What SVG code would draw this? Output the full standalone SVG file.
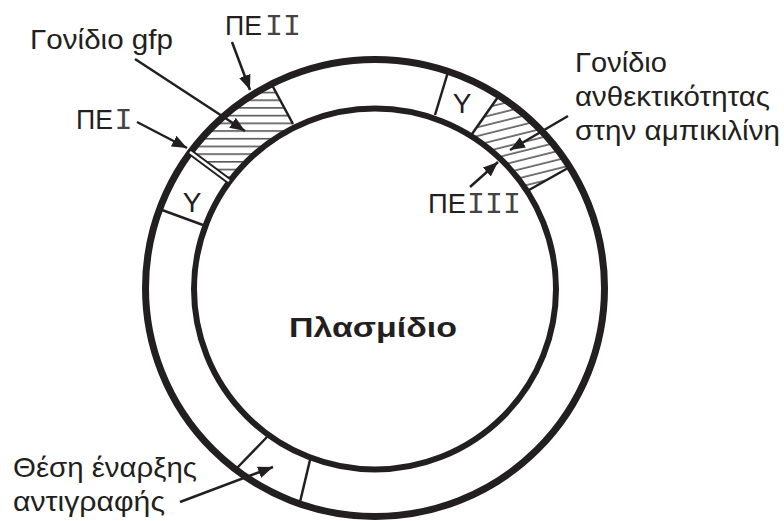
<svg xmlns="http://www.w3.org/2000/svg" width="784" height="521" viewBox="0 0 784 521">
<style>
.t{font-family:"Liberation Sans",Arial,sans-serif;font-size:28px;fill:#231f20}
.m{font-family:"Liberation Mono","Courier New",monospace;font-size:30px;fill:#444}
.b{font-family:"Liberation Sans",Arial,sans-serif;font-size:27px;font-weight:bold;fill:#231f20}
.ring{fill:none;stroke:#231f20}
.div{stroke:#231f20;stroke-width:2.5;fill:none}
.arr{stroke:#231f20;stroke-width:2.5;fill:none;marker-end:url(#ah)}
</style>
<defs>
<marker id="ah" markerUnits="userSpaceOnUse" markerWidth="16" markerHeight="12" refX="15" refY="6" orient="auto">
<path d="M0,0 L15,6 L0,12 Z" fill="#231f20"/>
</marker>
<pattern id="hg" patternUnits="userSpaceOnUse" width="20" height="7.7" y="91.7">
<line x1="0" y1="0.8" x2="20" y2="0.8" stroke="#555" stroke-width="1.6"/>
</pattern>
<pattern id="ha" patternUnits="userSpaceOnUse" width="20" height="8.5" patternTransform="rotate(-14)">
<line x1="0" y1="1" x2="20" y2="1" stroke="#231f20" stroke-width="1.2"/>
</pattern>
</defs>
<rect width="784" height="521" fill="#fff"/>
<g id="hatch-gfp">
<path d="M190.9,152.8 A229,229 0 0,1 272.8,84.1 L294.7,127.9 A180,180 0 0,0 230.3,181.9 Z" fill="url(#hg)"/>
</g>
<g id="hatch-amp">
<path d="M498,95.9 A229,229 0 0,1 568.6,166.6 L527.2,192.8 A180,180 0 0,0 471.7,137.2 Z" fill="url(#ha)"/>
</g>
<g id="plasmid">
<ellipse class="ring" cx="375" cy="288" rx="229.5" ry="228.5" stroke-width="7"/>
<ellipse class="ring" cx="375" cy="289" rx="181" ry="180.5" stroke-width="6"/>
<text class="b" x="289" y="337" textLength="168" lengthAdjust="spacingAndGlyphs">Πλασμίδιο</text>
</g>
<g id="dividers">
<line class="div" x1="162" y1="210" x2="203" y2="225"/>
<line x1="190" y1="152" x2="229" y2="181" stroke="#231f20" stroke-width="6.5"/>
<line x1="190" y1="152" x2="229" y2="181" stroke="#fff" stroke-width="2.5"/>
<line class="div" x1="272" y1="85" x2="293" y2="124"/>
<line class="div" x1="448" y1="72" x2="435" y2="115"/>
<line class="div" x1="498" y1="97" x2="472" y2="134"/>
<line class="div" x1="568" y1="168" x2="529" y2="190"/>
<line class="div" x1="267" y1="437" x2="237" y2="468"/>
<line class="div" x1="310" y1="460" x2="300" y2="502"/>
</g>
<g id="Y-left"><text class="t" x="192" y="212" text-anchor="middle" font-size="29">Y</text></g>
<g id="Y-right"><text class="t" x="462" y="113" text-anchor="middle" font-size="29">Y</text></g>
<g id="label-gfp"><text class="t" x="30" y="49" textLength="143" lengthAdjust="spacingAndGlyphs">Γονίδιο gfp</text></g>
<g id="label-PE2"><text class="t" x="225" y="35" textLength="37" lengthAdjust="spacingAndGlyphs">ΠΕ</text><text class="m" x="265" y="35">II</text></g>
<g id="label-PE1"><text class="t" x="76" y="129" textLength="37" lengthAdjust="spacingAndGlyphs">ΠΕ</text><text class="m" x="114.5" y="129">I</text></g>
<g id="label-amp"><text class="t" x="575" y="72" textLength="92" lengthAdjust="spacingAndGlyphs">Γονίδιο</text><text class="t" x="575" y="106" textLength="195" lengthAdjust="spacingAndGlyphs">ανθεκτικότητας</text><text class="t" x="575" y="140" textLength="205" lengthAdjust="spacingAndGlyphs">στην αμπικιλίνη</text></g>
<g id="label-PE3"><text class="t" x="428" y="213" textLength="38" lengthAdjust="spacingAndGlyphs">ΠΕ</text><text class="m" x="467" y="213">III</text></g>
<g id="label-ori"><text class="t" x="13" y="477" textLength="184" lengthAdjust="spacingAndGlyphs">Θέση έναρξης</text><text class="t" x="13" y="511" textLength="152" lengthAdjust="spacingAndGlyphs">αντιγραφής</text></g>
<g id="connectors">
<line class="arr" x1="232" y1="42" x2="250" y2="90"/>
<line class="arr" x1="135" y1="59" x2="245" y2="131"/>
<line class="arr" x1="137" y1="122" x2="187" y2="148"/>
<line class="arr" x1="568" y1="116" x2="510" y2="150"/>
<line class="arr" x1="470" y1="187" x2="498" y2="162"/>
<line class="arr" x1="180" y1="502" x2="273" y2="467"/>
</g>
</svg>
